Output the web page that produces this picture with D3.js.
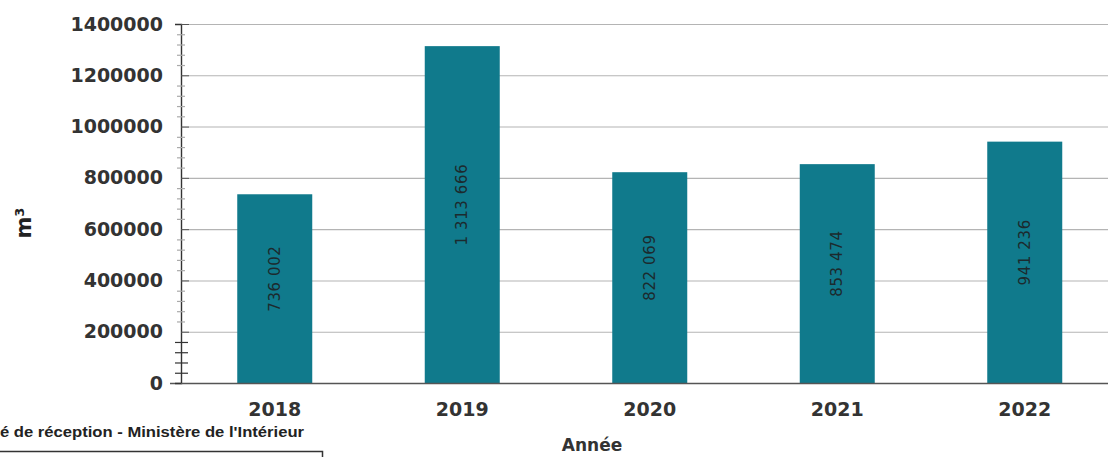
<!DOCTYPE html>
<html>
<head>
<meta charset="utf-8">
<script src="https://cdn.jsdelivr.net/npm/d3@7"></script>
<style>
  html, body { margin: 0; padding: 0; background: #fff; }
  svg { display: block; }
</style>
</head>
<body>
<svg id="chart" width="1108" height="457"></svg>
<script>
// Annual volumes (m³)
const years = ["2018", "2019", "2020", "2021", "2022"];
const volumes = [736002, 1313666, 822069, 853474, 941236];
const valueLabels = ["736 002", "1 313 666", "822 069", "853 474", "941 236"];
const yTicks = [0, 200000, 400000, 600000, 800000, 1000000, 1200000, 1400000];
const sourceText = "é de réception - Ministère de l'Intérieur";

const W = 1108, H = 457;
const margin = { top: 24, left: 181, bottom: 74 };
const boldFont = "'DejaVu Sans', Verdana, sans-serif";
const svg = d3.select("#chart");

const x = d3.scaleBand()
  .domain(years)
  .range([margin.left, margin.left + 937.5])
  .paddingInner(0.6)
  .paddingOuter(0.3);

const y = d3.scaleLinear()
  .domain([0, 1400000])
  .range([H - margin.bottom, margin.top]);

// Horizontal gridlines
svg.append("g")
  .selectAll("line")
  .data(yTicks.slice(1))
  .join("line")
  .attr("x1", margin.left)
  .attr("x2", W)
  .attr("y1", d => y(d) + 0.5)
  .attr("y2", d => y(d) + 0.5)
  .attr("stroke", "#b4b4b4")
  .attr("stroke-width", 1.1);

// Bars
svg.append("g")
  .selectAll("rect")
  .data(volumes)
  .join("rect")
  .attr("x", (d, i) => x(years[i]))
  .attr("y", d => y(d))
  .attr("width", x.bandwidth())
  .attr("height", d => y(0) - y(d))
  .attr("fill", "#107a8c");

// Value labels, rotated inside each bar
svg.append("g")
  .selectAll("text")
  .data(volumes)
  .join("text")
  .attr("transform", (d, i) => {
    const cx = x(years[i]) + x.bandwidth() / 2;
    const cy = (y(d) + y(0)) / 2 - 10;
    return `translate(${cx},${cy}) rotate(-90)`;
  })
  .attr("text-anchor", "middle")
  .attr("dominant-baseline", "central")
  .attr("font-family", "'DejaVu Sans', sans-serif")
  .attr("font-size", 15)
  .attr("letter-spacing", 0.6)
  .attr("fill", "#1c2a2e")
  .text((d, i) => valueLabels[i]);

// Baseline
svg.append("line")
  .attr("x1", 170).attr("x2", W)
  .attr("y1", y(0) + 0.5).attr("y2", y(0) + 0.5)
  .attr("stroke", "#555").attr("stroke-width", 1.3);

// Y axis
const yAxis = d3.axisLeft(y)
  .tickValues(yTicks)
  .tickFormat(d3.format("d"))
  .tickSize(6)
  .tickPadding(12);

const gy = svg.append("g")
  .attr("transform", `translate(${margin.left},0)`)
  .call(yAxis);
gy.select(".domain").attr("stroke", "#333").attr("stroke-width", 1.4);
gy.selectAll(".tick line").attr("stroke", "#555").attr("x2", 8);
gy.selectAll(".tick text")
  .attr("font-family", boldFont)
  .attr("font-weight", "bold")
  .attr("font-size", 19)
  .attr("fill", "#333");

// Minor ticks along the axis
const minor = d3.range(0, 1400001, 40000).filter(v => v % 200000 !== 0);
svg.append("g")
  .selectAll("line")
  .data(minor)
  .join("line")
  .attr("x1", d => margin.left - (d < 200000 ? 6 : 4))
  .attr("x2", d => margin.left + (d < 200000 ? 7 : 4))
  .attr("y1", d => y(d) + 0.5)
  .attr("y2", d => y(d) + 0.5)
  .attr("stroke", d => d < 200000 ? "#333" : "#aaa")
  .attr("stroke-width", 1.2);

// X axis labels
svg.append("g")
  .selectAll("text")
  .data(years)
  .join("text")
  .attr("x", d => x(d) + x.bandwidth() / 2)
  .attr("y", 416)
  .attr("text-anchor", "middle")
  .attr("font-family", boldFont)
  .attr("font-weight", "bold")
  .attr("font-size", 19)
  .attr("fill", "#333")
  .text(d => d);

// Axis titles
svg.append("text")
  .attr("x", 592).attr("y", 451)
  .attr("text-anchor", "middle")
  .attr("font-family", boldFont)
  .attr("font-weight", "bold")
  .attr("font-size", 17)
  .attr("fill", "#333")
  .text("Année");

svg.append("text")
  .attr("transform", "translate(31,223) rotate(-90)")
  .attr("text-anchor", "middle")
  .attr("font-family", boldFont)
  .attr("font-weight", "bold")
  .attr("font-size", 21)
  .attr("fill", "#222")
  .text("m³");

// Source line and frame fragment at bottom left
svg.append("text")
  .attr("x", 0).attr("y", 437)
  .attr("font-family", "'Liberation Sans', Arial, sans-serif")
  .attr("font-weight", "bold")
  .attr("font-size", 14)
  .attr("textLength", 304)
  .attr("lengthAdjust", "spacingAndGlyphs")
  .attr("fill", "#222")
  .text(sourceText);

svg.append("path")
  .attr("d", "M0,451.5 H322.5 V457")
  .attr("fill", "none")
  .attr("stroke", "#333")
  .attr("stroke-width", 1.5);
</script>
</body>
</html>
